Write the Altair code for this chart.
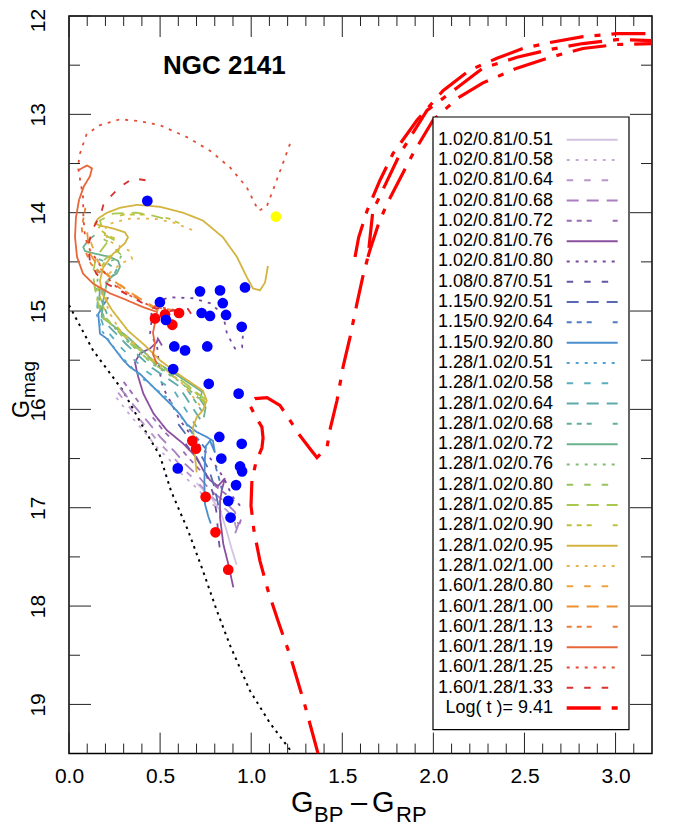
import altair as alt
import pandas as pd

# ---------------- axis ticks ----------------
X_TICKS = [0.0, 0.5, 1.0, 1.5, 2.0, 2.5, 3.0]
X_MINOR = [0.1, 0.2, 0.3, 0.4, 0.6, 0.7, 0.8, 0.9, 1.1, 1.2, 1.3, 1.4, 1.6, 1.7, 1.8, 1.9,
           2.1, 2.2, 2.3, 2.4, 2.6, 2.7, 2.8, 2.9, 3.1]
Y_TICKS = [12, 13, 14, 15, 16, 17, 18, 19]
Y_MINOR = [12.5, 13.5, 14.5, 15.5, 16.5, 17.5, 18.5]

# ---------------- legend / track styles ----------------
TRACK_LABELS = [
    "1.02/0.81/0.51", "1.02/0.81/0.58", "1.02/0.81/0.64", "1.02/0.81/0.68", "1.02/0.81/0.72",
    "1.02/0.81/0.76", "1.02/0.81/0.80", "1.08/0.87/0.51", "1.15/0.92/0.51", "1.15/0.92/0.64",
    "1.15/0.92/0.80", "1.28/1.02/0.51", "1.28/1.02/0.58", "1.28/1.02/0.64", "1.28/1.02/0.68",
    "1.28/1.02/0.72", "1.28/1.02/0.76", "1.28/1.02/0.80", "1.28/1.02/0.85", "1.28/1.02/0.90",
    "1.28/1.02/0.95", "1.28/1.02/1.00", "1.60/1.28/0.80", "1.60/1.28/1.00", "1.60/1.28/1.13",
    "1.60/1.28/1.19", "1.60/1.28/1.25", "1.60/1.28/1.33",
]
TRACK_COLORS = [
    "#d2c3e0", "#c6a9d7", "#b995cc", "#a97fc1", "#9b6bb6",
    "#8a4f9e", "#77489e", "#6656a4", "#5a69b3", "#4e7bc2",
    "#4a8dcc", "#52a3cf", "#5aafbf", "#5ea9a9", "#64ad9c",
    "#6db28e", "#83bb75", "#98c35e", "#aac84e", "#bfc13e",
    "#d3b43e", "#e6b54e", "#eda23e", "#ee9230", "#ec7c36",
    "#e7663a", "#e34d36", "#da3030",
]
STYLE_CYCLE = ["solid", "dotted", "dashed", "long", "dash3"]
DASHES = {"solid": [1, 0], "dotted": [3, 6], "dashed": [6.5, 11], "long": [12, 8],
          "dash3": [5, 5, 5, 5, 5, 21]}
TRACK_DASH = [DASHES[STYLE_CYCLE[k % 5]] for k in range(len(TRACK_LABELS))]
LOG_LABEL = "Log( t )= 9.41"

# ---------------- model tracks (G_BP-G_RP, G) ----------------
T01_X = [0.70, 0.78, 0.83, 0.86, 0.89, 0.92]
T01_Y = [16.75, 16.90, 17.03, 17.20, 17.40, 17.58]
T02_X = [0.26, 0.34, 0.41, 0.48, 0.56, 0.62, 0.69, 0.76, 0.83, 0.88]
T02_Y = [15.88, 16.07, 16.22, 16.38, 16.53, 16.66, 16.78, 16.92, 17.03, 17.15]
T03_X = [0.27, 0.35, 0.42, 0.49, 0.57, 0.63, 0.70, 0.77, 0.84, 0.90, 0.92]
T03_Y = [15.83, 16.02, 16.17, 16.33, 16.48, 16.61, 16.73, 16.87, 16.98, 17.09, 17.22]
T04_X = [0.28, 0.36, 0.43, 0.50, 0.58, 0.64, 0.71, 0.78, 0.85, 0.91, 0.93, 0.91]
T04_Y = [15.78, 15.97, 16.12, 16.28, 16.43, 16.56, 16.68, 16.83, 16.93, 17.04, 17.17, 17.27]
T05_X = [0.30, 0.38, 0.45, 0.52, 0.60, 0.66, 0.72, 0.79, 0.86, 0.92, 0.95, 0.93]
T05_Y = [15.72, 15.92, 16.06, 16.22, 16.37, 16.50, 16.62, 16.76, 16.86, 16.95, 17.08, 17.20]
T06_X = [0.510, 0.488, 0.481, 0.445, 0.390, 0.362, 0.371, 0.380, 0.408, 0.463, 0.536, 0.628,
         0.701, 0.737, 0.774, 0.818, 0.856, 0.840, 0.829, 0.829, 0.847, 0.874, 0.902]
T06_Y = [15.35, 15.28, 15.32, 15.38, 15.43, 15.52, 15.60, 15.67, 15.84, 16.04, 16.21, 16.35,
         16.49, 16.62, 16.72, 16.78, 16.70, 16.81, 16.93, 17.10, 17.37, 17.57, 17.81]
T07_X = [0.939, 0.895, 0.856, 0.812, 0.757, 0.681, 0.609, 0.554, 0.516, 0.499, 0.483, 0.445,
         0.455, 0.445, 0.554, 0.680, 0.774, 0.845, 0.867, 0.911, 0.950, 0.955]
T07_Y = [16.98, 16.88, 16.72, 16.59, 16.45, 16.29, 16.11, 15.91, 15.78, 15.63, 15.35, 15.23,
         15.07, 14.92, 14.86, 14.87, 14.92, 15.03, 15.23, 15.38, 15.37, 15.23]
T08_X = [0.64, 0.70, 0.75, 0.79, 0.81, 0.82, 0.83]
T08_Y = [16.35, 16.50, 16.65, 16.85, 17.05, 17.30, 17.45]
T09_X = [0.60, 0.66, 0.72, 0.77, 0.80, 0.82]
T09_Y = [16.15, 16.30, 16.45, 16.62, 16.80, 16.98]
T10_X = [0.66, 0.72, 0.77, 0.80, 0.82, 0.84]
T10_Y = [16.20, 16.33, 16.45, 16.55, 16.68, 16.82]
T11_X = [0.216, 0.188, 0.161, 0.170, 0.207, 0.244, 0.298, 0.335, 0.390, 0.445, 0.499, 0.554,
         0.609, 0.646, 0.701, 0.756, 0.790, 0.801, 0.774, 0.752, 0.746, 0.743, 0.746, 0.765, 0.778]
T11_Y = [14.86, 14.94, 15.03, 15.23, 15.28, 15.37, 15.50, 15.57, 15.64, 15.74, 15.84, 15.94,
         16.05, 16.15, 16.23, 16.28, 16.32, 16.44, 16.32, 16.37, 16.49, 16.76, 16.96, 17.09, 17.16]
T12_X = [0.68, 0.55, 0.40, 0.27, 0.18, 0.15]
T12_Y = [16.25, 15.90, 15.68, 15.43, 15.20, 15.02]
T13_X = [0.70, 0.58, 0.43, 0.29, 0.19, 0.155, 0.16]
T13_Y = [16.18, 15.82, 15.62, 15.38, 15.16, 14.96, 14.82]
T14_X = [0.72, 0.60, 0.45, 0.31, 0.20, 0.165, 0.17, 0.22, 0.25]
T14_Y = [16.10, 15.76, 15.57, 15.33, 15.12, 14.92, 14.76, 14.68, 14.62]
T15_X = [0.73, 0.62, 0.48, 0.33, 0.22, 0.18, 0.19, 0.24, 0.26, 0.20, 0.12]
T15_Y = [16.02, 15.72, 15.55, 15.31, 15.08, 14.90, 14.74, 14.66, 14.58, 14.50, 14.44]
T16_X = [0.74, 0.75, 0.72, 0.73, 0.60, 0.46, 0.32, 0.179, 0.188, 0.207, 0.225, 0.262, 0.28,
         0.27, 0.225, 0.152, 0.088, 0.078, 0.106, 0.14]
T16_Y = [16.08, 15.98, 15.90, 15.82, 15.66, 15.50, 15.26, 15.06, 14.89, 14.72, 14.66, 14.62,
         14.55, 14.49, 14.45, 14.42, 14.39, 14.35, 14.28, 14.23]
T17_X = [0.75, 0.61, 0.46, 0.31, 0.19, 0.15, 0.16, 0.21, 0.28, 0.30]
T17_Y = [15.95, 15.72, 15.54, 15.29, 15.05, 14.82, 14.62, 14.50, 14.46, 14.40]
T18_X = [0.74, 0.60, 0.45, 0.30, 0.17, 0.14, 0.16, 0.21, 0.28, 0.22, 0.19]
T18_Y = [15.92, 15.70, 15.52, 15.27, 15.00, 14.75, 14.55, 14.45, 14.42, 14.30, 14.27]
T19_X = [0.75, 0.60, 0.45, 0.30, 0.18, 0.15, 0.13, 0.15, 0.21, 0.25, 0.19, 0.17, 0.24, 0.37,
         0.46, 0.52]
T19_Y = [15.90, 15.68, 15.50, 15.25, 15.05, 14.85, 14.62, 14.45, 14.30, 14.28, 14.22, 14.08,
         14.01, 14.00, 14.03, 14.06]
T20_X = [0.75, 0.60, 0.46, 0.31, 0.20, 0.16, 0.16, 0.21, 0.29, 0.31, 0.22, 0.16, 0.20, 0.30,
         0.42, 0.55, 0.62]
T20_Y = [15.93, 15.66, 15.50, 15.26, 15.02, 14.80, 14.60, 14.46, 14.36, 14.30, 14.24, 14.16,
         14.07, 14.02, 14.02, 14.06, 14.12]
T21_X = [0.701, 0.692, 0.681, 0.701, 0.735, 0.756, 0.735, 0.591, 0.499, 0.417, 0.324, 0.236,
         0.181, 0.170, 0.187, 0.241, 0.307, 0.324, 0.307, 0.241, 0.170, 0.143, 0.159, 0.209,
         0.280, 0.373, 0.499, 0.626, 0.735, 0.845, 0.922, 0.977, 1.010, 1.048, 1.076, 1.092]
T21_Y = [16.64, 16.49, 16.18, 16.08, 16.01, 15.91, 15.81, 15.63, 15.50, 15.35, 15.20, 14.99,
         14.82, 14.69, 14.56, 14.42, 14.31, 14.25, 14.20, 14.16, 14.13, 14.11, 14.06, 14.00,
         13.95, 13.92, 13.94, 14.00, 14.08, 14.25, 14.45, 14.66, 14.77, 14.79, 14.71, 14.54]
T22_X = [0.719, 0.609, 0.499, 0.390, 0.280, 0.214, 0.198, 0.225, 0.291, 0.346, 0.335, 0.210,
         0.200, 0.262, 0.335, 0.463, 0.573, 0.682]
T22_Y = [15.96, 15.71, 15.55, 15.38, 15.20, 14.99, 14.79, 14.61, 14.51, 14.47, 14.39, 14.28,
         14.13, 14.09, 14.06, 14.06, 14.10, 14.18]
T23_X = [0.12, 0.16, 0.23, 0.33, 0.43, 0.50, 0.55]
T23_Y = [14.30, 14.50, 14.66, 14.80, 14.93, 15.02, 15.08]
T24_X = [0.10, 0.11, 0.16, 0.25, 0.36, 0.46, 0.52, 0.58, 0.62]
T24_Y = [14.20, 14.40, 14.55, 14.70, 14.84, 14.95, 15.06, 15.10, 15.06]
T25_X = [0.09, 0.07, 0.08, 0.12, 0.19, 0.29, 0.40, 0.50, 0.60, 0.64]
T25_Y = [13.95, 14.15, 14.35, 14.52, 14.65, 14.78, 14.90, 14.97, 15.00, 14.99]
T26_X = [0.049, 0.099, 0.126, 0.115, 0.082, 0.055, 0.038, 0.033, 0.044, 0.077, 0.132, 0.225,
         0.318, 0.406, 0.483, 0.472, 0.461, 0.472, 0.461, 0.483]
T26_Y = [13.57, 13.52, 13.55, 13.63, 13.73, 13.87, 14.05, 14.25, 14.45, 14.62, 14.72, 14.82,
         14.89, 14.96, 15.01, 15.12, 15.22, 15.34, 15.44, 15.54]
T27_X = [1.213, 1.140, 1.085, 1.040, 0.975, 0.884, 0.774, 0.646, 0.499, 0.390, 0.280, 0.170,
         0.097, 0.060, 0.049, 0.077, 0.079, 0.088, 0.115, 0.152, 0.188, 0.225, 0.280, 0.353,
         0.426, 0.499, 0.609]
T27_Y = [13.30, 13.67, 13.94, 13.98, 13.74, 13.54, 13.37, 13.23, 13.11, 13.07, 13.05, 13.11,
         13.20, 13.40, 13.53, 13.84, 14.04, 14.25, 14.38, 14.48, 14.59, 14.69, 14.79, 14.86,
         14.93, 14.96, 15.00]
T28_X = [0.42, 0.35, 0.28, 0.225, 0.19, 0.18, 0.15, 0.125, 0.105, 0.115, 0.15, 0.205, 0.307,
         0.445, 0.554, 0.653, 0.675]
T28_Y = [13.67, 13.65, 13.74, 13.84, 13.91, 13.98, 14.10, 14.18, 14.35, 14.49, 14.62, 14.72,
         14.82, 14.96, 15.00, 14.98, 15.04]

TRACKS_X = [T01_X, T02_X, T03_X, T04_X, T05_X, T06_X, T07_X, T08_X, T09_X, T10_X, T11_X, T12_X,
            T13_X, T14_X, T15_X, T16_X, T17_X, T18_X, T19_X, T20_X, T21_X, T22_X, T23_X, T24_X,
            T25_X, T26_X, T27_X, T28_X]
TRACKS_Y = [T01_Y, T02_Y, T03_Y, T04_Y, T05_Y, T06_Y, T07_Y, T08_Y, T09_Y, T10_Y, T11_Y, T12_Y,
            T13_Y, T14_Y, T15_Y, T16_Y, T17_Y, T18_Y, T19_Y, T20_Y, T21_Y, T22_Y, T23_Y, T24_Y,
            T25_Y, T26_Y, T27_Y, T28_Y]

# ---------------- ZAMS (black dotted) ----------------
ZAMS_X = [0.0, 0.132, 0.296, 0.428, 0.499, 0.56, 0.653, 0.735, 0.812, 0.884, 0.993, 1.103, 1.229]
ZAMS_Y = [14.94, 15.40, 15.81, 16.25, 16.47, 16.83, 17.23, 17.64, 18.05, 18.40, 18.86, 19.19, 19.50]

# ---------------- isochrone log(t)=9.41 (three strands) ----------------
ISO_MAIN_X = [1.367, 1.295, 1.213, 1.147, 1.092, 1.048, 1.015, 0.999, 1.004, 1.026, 1.059, 1.065,
              1.059, 1.026, 0.988, 1.021, 1.087, 1.158, 1.202, 1.257, 1.323, 1.361, 1.416, 1.432,
              1.471, 1.504, 1.542, 1.581, 1.614, 1.641, 1.668, 1.817, 1.965, 2.130, 2.272, 2.459,
              2.640, 2.821, 3.008, 3.200]
ISO_MAIN_Y = [19.50, 19.01, 18.50, 18.15, 17.84, 17.54, 17.23, 16.98, 16.72, 16.54, 16.39, 16.29,
              16.18, 16.08, 15.94, 15.89, 15.88, 15.96, 16.08, 16.24, 16.40, 16.49, 16.39, 16.21,
              15.91, 15.57, 15.27, 14.92, 14.64, 14.45, 13.98, 13.40, 12.96, 12.73, 12.53, 12.42,
              12.34, 12.28, 12.24, 12.25]
ISO_A_X = [1.570, 1.590, 1.636, 1.707, 1.778, 1.910, 2.053, 2.200, 2.349, 2.492, 2.640,
           2.821, 3.008, 3.200]
ISO_A_Y = [14.45, 14.25, 13.98, 13.67, 13.40, 13.06, 12.76, 12.55, 12.43, 12.33, 12.27,
           12.21, 12.18, 12.18]
ISO_C_X = [1.641, 1.652, 1.696, 1.745, 1.888, 1.998, 2.130, 2.272, 2.459, 2.640, 2.821, 3.008, 3.200]
ISO_C_Y = [14.45, 14.38, 14.13, 13.91, 13.40, 13.06, 12.84, 12.68, 12.53, 12.42, 12.33, 12.29, 12.28]

# ---------------- cluster stars ----------------
RED_X = [0.472, 0.527, 0.604, 0.567, 0.677, 0.697, 0.750, 0.804, 0.874]
RED_Y = [15.075, 15.035, 15.02, 15.14, 16.32, 16.40, 16.89, 17.25, 17.63]
BLUE_X = [0.430, 0.966, 0.719, 0.829, 0.844, 0.499, 0.728, 0.774, 0.862, 0.948, 0.532, 0.578,
          0.637, 0.759, 0.572, 0.767, 0.931, 0.825, 0.948, 0.836, 0.939, 0.950, 0.597, 0.917,
          0.874, 0.887]
BLUE_Y = [13.88, 14.76, 14.80, 14.79, 14.92, 14.91, 15.02, 15.05, 15.04, 15.16, 15.09, 15.36,
          15.40, 15.36, 15.59, 15.74, 15.84, 16.28, 16.35, 16.50, 16.58, 16.63, 16.60, 16.77,
          16.93, 17.10]
YELLOW_X = [1.136]
YELLOW_Y = [14.04]

# ================= build tables =================
rows = []
for lab, xs, ys in zip(TRACK_LABELS, TRACKS_X, TRACKS_Y):
    for i, (xv, yv) in enumerate(zip(xs, ys)):
        rows.append({"label": lab, "i": i, "x": xv, "y": yv})
tracks_df = pd.DataFrame(rows)

zams_df = pd.DataFrame({"x": ZAMS_X, "y": ZAMS_Y, "i": range(len(ZAMS_X))})
iso_rows = []
for part, xs, ys in [("main", ISO_MAIN_X, ISO_MAIN_Y), ("a", ISO_A_X, ISO_A_Y), ("c", ISO_C_X, ISO_C_Y)]:
    for i, (xv, yv) in enumerate(zip(xs, ys)):
        iso_rows.append({"part": part, "i": i, "x": xv, "y": yv})
iso_df = pd.DataFrame(iso_rows)
red_df = pd.DataFrame({"x": RED_X, "y": RED_Y})
blue_df = pd.DataFrame({"x": BLUE_X, "y": BLUE_Y})
yel_df = pd.DataFrame({"x": YELLOW_X, "y": YELLOW_Y})
leg_df = pd.DataFrame({"label": TRACK_LABELS, "idx": range(len(TRACK_LABELS))})
log_df = pd.DataFrame({"label": [LOG_LABEL], "idx": [len(TRACK_LABELS)]})

W, H = 583, 737.6
FONT = "Liberation Sans"
XS = alt.Scale(domain=[0, 3.2], nice=False, zero=False)
YS = alt.Scale(domain=[12, 19.5], nice=False, zero=False, reverse=True)
CS = alt.Scale(domain=TRACK_LABELS, range=TRACK_COLORS)
DS = alt.Scale(domain=TRACK_LABELS, range=TRACK_DASH)

AX_X = alt.Axis(values=X_TICKS, format=".1f", ticks=False, domain=False, grid=False,
                labelFontSize=21, labelFont=FONT, labelColor="black", labelPadding=12,
                labelFlush=False, title=None)
AX_Y = alt.Axis(values=Y_TICKS, format="d", ticks=False, domain=False, grid=False,
                labelFontSize=21, labelFont=FONT, labelColor="black", labelAngle=270,
                labelAlign="center", labelBaseline="bottom", labelPadding=21,
                labelOffset={"condition": {"test": "datum.value == 12", "value": 4}, "value": 0},
                labelFlush=False, title=None)


def X(f="x"):
    return alt.X(f"{f}:Q", scale=XS, axis=AX_X, title=None)


def Y(f="y"):
    return alt.Y(f"{f}:Q", scale=YS, axis=AX_Y, title=None)


layers = []

# ZAMS
layers.append(
    alt.Chart(zams_df).mark_line(color="black", strokeWidth=2, strokeDash=[2.5, 4.5], clip=True).encode(
        x=X(), y=Y(), order="i:Q")
)


# inward ticks
def xticks(vals, length, top):
    d = pd.DataFrame({"v": vals})
    if top:
        return alt.Chart(d).mark_rule(color="#222", strokeWidth=1).encode(
            x=X("v"), y=alt.value(0), y2=alt.value(length))
    return alt.Chart(d).mark_rule(color="#222", strokeWidth=1).encode(
        x=X("v"), y=alt.value(H), y2=alt.value(H - length))


def yticks(vals, length, right):
    d = pd.DataFrame({"v": vals})
    if right:
        return alt.Chart(d).mark_rule(color="#222", strokeWidth=1).encode(
            y=Y("v"), x=alt.value(W), x2=alt.value(W - length))
    return alt.Chart(d).mark_rule(color="#222", strokeWidth=1).encode(
        y=Y("v"), x=alt.value(0), x2=alt.value(length))


layers += [xticks(X_TICKS, 21, False), xticks(X_MINOR, 10, False),
           xticks(X_TICKS, 21, True), xticks(X_MINOR, 10, True),
           yticks(Y_TICKS, 22, False), yticks(Y_MINOR, 11, False),
           yticks(Y_TICKS, 22, True), yticks(Y_MINOR, 11, True)]

# model tracks
layers.append(
    alt.Chart(tracks_df).mark_line(strokeWidth=1.8, clip=True).encode(
        x=X(), y=Y(),
        color=alt.Color("label:N", scale=CS, legend=None),
        strokeDash=alt.StrokeDash("label:N", scale=DS, legend=None),
        detail="label:N",
        order="i:Q",
    )
)

# isochrone
ISO_DASH = [34, 11, 6, 11]
layers.append(
    alt.Chart(iso_df).mark_line(color="#ff0000", strokeWidth=3.2, strokeDash=ISO_DASH, clip=True).encode(
        x=X(), y=Y(), detail="part:N", order="i:Q")
)

# stars
layers.append(alt.Chart(red_df).mark_circle(size=115, color="#ff0000", opacity=1).encode(x=X(), y=Y()))
layers.append(alt.Chart(blue_df).mark_circle(size=115, color="#0000ff", opacity=1).encode(x=X(), y=Y()))
layers.append(alt.Chart(yel_df).mark_circle(size=115, color="#ffff00", opacity=1).encode(x=X(), y=Y()))

# legend box
box_df = pd.DataFrame({"k": [0]})
layers.append(
    alt.Chart(box_df).mark_rect(fill="white", stroke="black", strokeWidth=1.2).encode(
        x=alt.value(364), x2=alt.value(560), y=alt.value(101), y2=alt.value(713.6))
)
ROW0, ROWSTEP = 13.2574, 0.20641
layers.append(
    alt.Chart(leg_df).transform_calculate(ly=f"{ROW0} + datum.idx * {ROWSTEP}").mark_text(
        align="right", baseline="middle", fontSize=18, font=FONT, color="black").encode(
        x=alt.value(484), y=Y("ly"), text="label:N")
)
layers.append(
    alt.Chart(leg_df).transform_calculate(ly=f"{ROW0} + datum.idx * {ROWSTEP}").mark_rule(
        strokeWidth=2).encode(
        x=alt.value(497.7), x2=alt.value(548.7), y=Y("ly"),
        color=alt.Color("label:N", scale=CS, legend=None),
        strokeDash=alt.StrokeDash("label:N", scale=DS, legend=None))
)
layers.append(
    alt.Chart(log_df).transform_calculate(ly=f"{ROW0} + datum.idx * {ROWSTEP}").mark_text(
        align="right", baseline="middle", fontSize=18, font=FONT, color="black").encode(
        x=alt.value(484), y=Y("ly"), text="label:N")
)
layers.append(
    alt.Chart(log_df).transform_calculate(ly=f"{ROW0} + datum.idx * {ROWSTEP}").mark_rule(
        strokeWidth=3.5, color="#ff0000", strokeDash=ISO_DASH).encode(
        x=alt.value(497.7), x2=alt.value(548.7), y=Y("ly"))
)


# titles
def txt(s, x, y, size, angle=0, weight="normal", baseline="alphabetic"):
    d = pd.DataFrame({"t": [s]})
    kw = dict(align="left", baseline=baseline, fontSize=size, font=FONT, color="black",
              fontWeight=weight)
    if angle:
        kw["angle"] = angle
    return alt.Chart(d).mark_text(**kw).encode(x=alt.value(x), y=alt.value(y), text="t:N")


layers.append(txt("NGC 2141", 94, 50, 26, weight="bold", baseline="middle"))
layers.append(txt("G", 222, 796, 29))
layers.append(txt("BP", 245, 806, 22))
layers.append(txt("\u2013", 282, 796, 29))
layers.append(txt("G", 303, 796, 29))
layers.append(txt("RP", 327, 806, 22))
layers.append(txt("G", -40.5, 402, 23, angle=270))
layers.append(txt("mag", -34, 382, 19, angle=270))

chart = alt.layer(*layers).properties(
    width=W, height=H,
    autosize=alt.AutoSizeParams(type="none"),
    padding={"left": 61, "top": 8, "right": 21, "bottom": 78},
).configure_view(stroke="black", strokeWidth=1.5)

chart.save("out.html", embed_options={"renderer": "svg", "actions": False})
